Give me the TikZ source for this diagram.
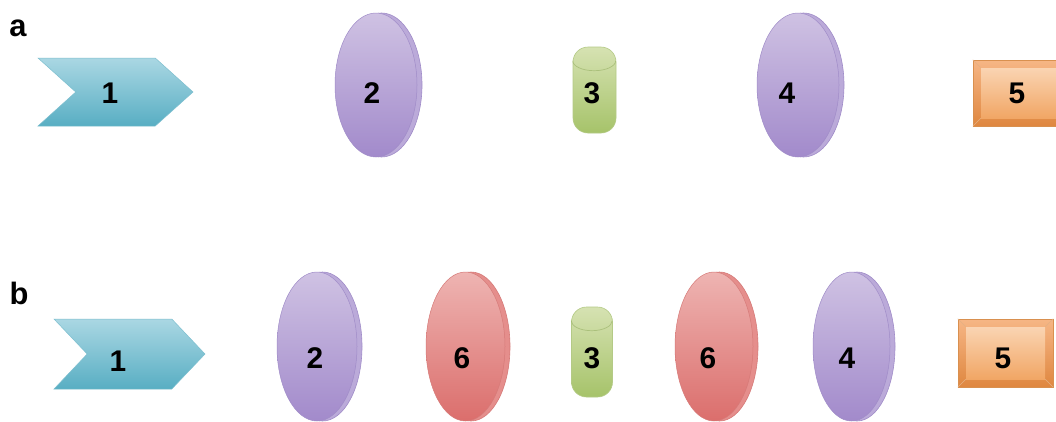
\documentclass[tikz,border=0pt]{standalone}
\usepackage{fontspec}
\setmainfont{Liberation Sans}
\usetikzlibrary{shapes.geometric,shapes.symbols}
\definecolor{pTop}{HTML}{CFC2E3}
\definecolor{pBot}{HTML}{A28ACB}
\definecolor{pRim}{HTML}{BBAAD9}
\definecolor{pEdge}{HTML}{A08CC8}
\definecolor{rTop}{HTML}{EEB4B2}
\definecolor{rBot}{HTML}{DB6E6C}
\definecolor{rRim}{HTML}{E58E8C}
\definecolor{rEdge}{HTML}{D67A78}
\definecolor{gTop}{HTML}{D6E2B2}
\definecolor{gBot}{HTML}{A6C36A}
\definecolor{gEdge}{HTML}{B4CA86}
\definecolor{gCap}{HTML}{9DB56C}
\definecolor{bTop}{HTML}{AAD7E3}
\definecolor{bBot}{HTML}{58AEC3}
\definecolor{bEdge}{HTML}{7DBFCF}
\definecolor{oTop}{HTML}{F6B685}
\definecolor{oBot}{HTML}{DF8740}
\definecolor{oInTop}{HTML}{FAD4B2}
\definecolor{oInBot}{HTML}{F1A665}
\definecolor{oEdge}{HTML}{D9904F}
\tikzset{
  lbl/.style={font=\bfseries\fontsize{30}{30}\selectfont, inner sep=0pt},
  tag/.style={font=\bfseries\fontsize{31}{31}\selectfont, inner sep=0pt},
  prim/.style={ellipse, inner sep=0pt, draw=pEdge, line width=0.6bp, fill=pRim},
  pface/.style={ellipse, inner sep=0pt, draw=pEdge, line width=0.5bp, top color=pTop, bottom color=pBot},
  rrim/.style={ellipse, inner sep=0pt, draw=rEdge, line width=0.6bp, fill=rRim},
  rface/.style={ellipse, inner sep=0pt, draw=rEdge, line width=0.5bp, top color=rTop, bottom color=rBot},
  cyl/.style={rectangle, rounded corners=15bp, inner sep=0pt, draw=gEdge, line width=0.6bp, top color=gTop, bottom color=gBot},
  capline/.style={draw=gCap, line width=0.7bp, opacity=0.7},
  chev/.style={signal, signal from=west, signal to=east, inner sep=0pt, draw=bEdge, line width=0.5bp, top color=bTop, bottom color=bBot},
  boxout/.style={rectangle, inner sep=0pt, draw=oEdge, line width=0.5bp, top color=oTop, bottom color=oBot},
  boxin/.style={rectangle, inner sep=0pt, top color=oInTop, bottom color=oInBot},
  bevel/.style={draw=oEdge!70!white, line width=0.5bp}
}
% #1 name, #2 colour prefix (p or r), #3 left, #4 right, #5 top, #6 bottom
\newcommand\mylens[6]{%
  \pgfmathsetmacro\lensfw{#4-#3-5}%
  \pgfmathsetmacro\lensrw{#4-#3-6}%
  \pgfmathsetmacro\lensh{#6-#5}%
  \node[#2rim, minimum width=\lensrw bp, minimum height=\lensh bp] (#1rim) at ({(#3+6+#4)/2},{(#5+#6)/2}) {};
  \node[#2face, minimum width=\lensfw bp, minimum height=\lensh bp] (#1) at ({(#3+#4-5)/2},{(#5+#6)/2}) {};
}
\begin{document}
\begin{tikzpicture}[x=1bp,y=-1bp]
\clip (0,0) rectangle (1056,421);
\useasboundingbox (0,0) rectangle (1056,421);
\fill[white] (0,0) rectangle (1056,421);

% ---------- row a ----------
\node[tag] (ta) at (18,28) {a};
\node[chev, minimum width=155bp, minimum height=68bp, signal pointer angle=84] (c1a) at (115.5,92) {};
\node[lbl] (t1a) at (110,93) {1};

\mylens{l2a}{p}{335}{422}{13}{157}
\node[lbl] (t2a) at (372,93) {2};

\node[cyl, minimum width=43bp, minimum height=86bp] (c3a) at (594.5,90) {};
\draw[capline] (c3a.north west) ++(0,14) arc[start angle=180, end angle=0, x radius=21.5, y radius=10];
\node[lbl] (t3a) at (592,93) {3};

\mylens{l4a}{p}{757}{844}{13}{157}
\node[lbl] (t4a) at (787,93) {4};

\node[boxout, minimum width=95bp, minimum height=66bp] (b5a) at (1020.5,93) {};
\node[boxin, minimum width=79bp, minimum height=50bp] (b5ai) at (1020.5,93) {};
\draw[bevel] (b5a.north west) -- (b5ai.north west) (b5a.south west) -- (b5ai.south west)
             (b5a.north east) -- (b5ai.north east) (b5a.south east) -- (b5ai.south east);
\node[lbl] (t5a) at (1017,93) {5};

% ---------- row b ----------
\node[tag] (tb) at (19,293) {b};
\node[chev, minimum width=151bp, minimum height=70bp, signal pointer angle=93] (c1b) at (129.5,354) {};
\node[lbl] (t1b) at (118,361) {1};

\mylens{l2b}{p}{277}{362}{272}{421}
\node[lbl] (t2b) at (315,358) {2};

\mylens{l6b}{r}{426}{510}{272}{421}
\node[lbl] (t6b) at (462,358) {6};

\node[cyl, minimum width=41bp, minimum height=90bp] (c3b) at (592,352) {};
\draw[capline] (c3b.north west) ++(0,14) arc[start angle=180, end angle=0, x radius=20.5, y radius=10];
\node[lbl] (t3b) at (592,358) {3};

\mylens{l6c}{r}{675}{758}{272}{421}
\node[lbl] (t6c) at (708,358) {6};

\mylens{l4b}{p}{813}{895}{272}{421}
\node[lbl] (t4b) at (847,358) {4};

\node[boxout, minimum width=95bp, minimum height=68bp] (b5b) at (1005.5,353) {};
\node[boxin, minimum width=79bp, minimum height=52bp] (b5bi) at (1005.5,353) {};
\draw[bevel] (b5b.north west) -- (b5bi.north west) (b5b.south west) -- (b5bi.south west)
             (b5b.north east) -- (b5bi.north east) (b5b.south east) -- (b5bi.south east);
\node[lbl] (t5b) at (1003,358) {5};
\end{tikzpicture}
\end{document}
